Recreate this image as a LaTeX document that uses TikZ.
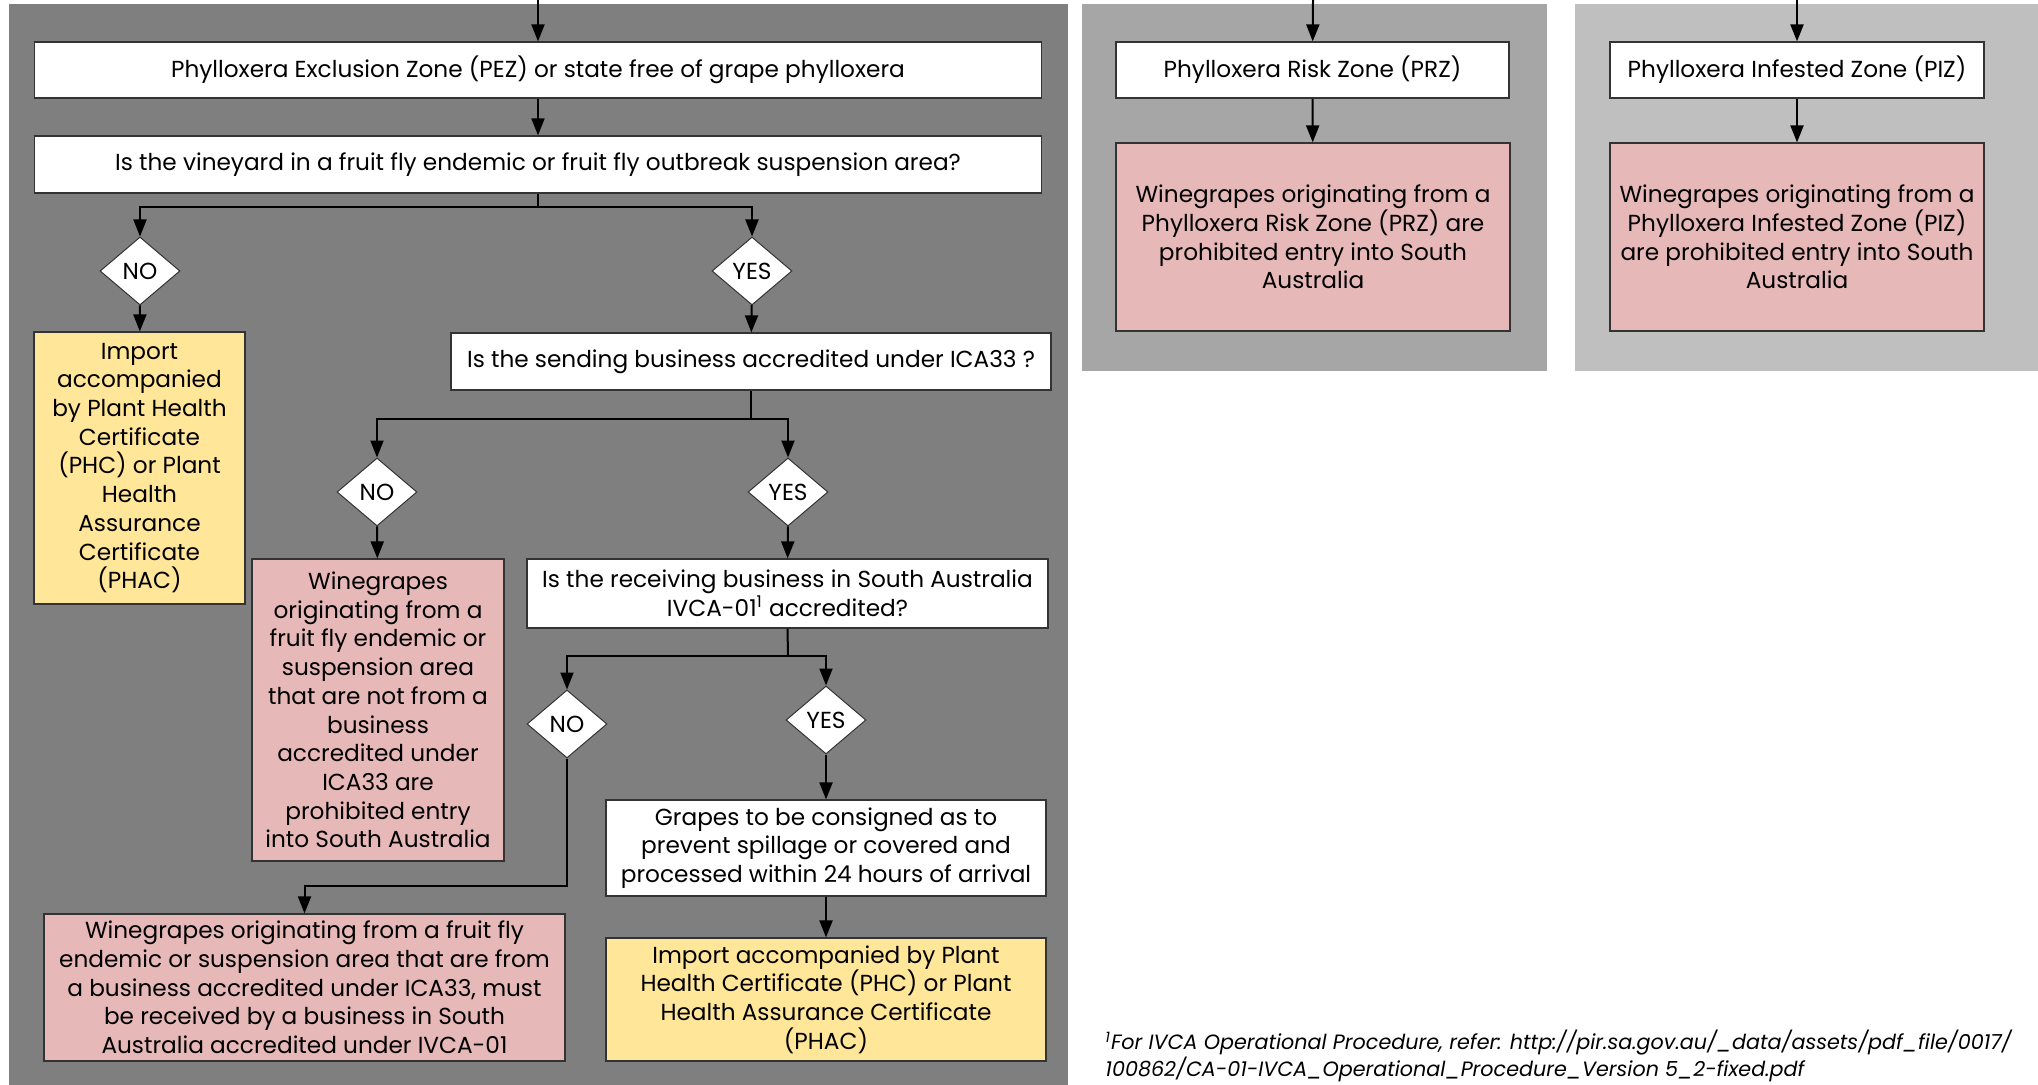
\documentclass[tikz,border=0pt]{standalone}
\usepackage{fontspec}
\setmainfont{Poppins}
\usetikzlibrary{shapes.geometric,arrows.meta}

\definecolor{panelA}{RGB}{127,127,127}
\definecolor{panelB}{RGB}{166,166,166}
\definecolor{panelC}{RGB}{191,191,191}
\definecolor{pinkfill}{RGB}{230,184,183}
\definecolor{goldfill}{RGB}{255,230,153}

\begin{document}
\begin{tikzpicture}[x=0.5pt,y=-0.5pt,
  every node/.style={font=\fontsize{11.6}{14.35}\selectfont, align=center, inner sep=0pt},
  whitebox/.style={draw=black!80, line width=0.6pt, fill=white},
  pinkbox/.style={whitebox, fill=pinkfill},
  goldbox/.style={whitebox, fill=goldfill},
  choice/.style={diamond, draw=black!80, line width=0.5pt, fill=white, minimum width=40pt, minimum height=34pt},
  arr/.style={line width=1pt, -{Triangle[length=8.5pt,width=6.5pt]}}]

\useasboundingbox (0,0) rectangle (2038,1085);

% zone backgrounds
\fill[panelA] (9,4) rectangle (1068,1085);
\fill[panelB] (1082,4) rectangle (1547,371);
\fill[panelC] (1575,4) rectangle (2038,371);

% PEZ column
\coordinate (inpez) at (538,0);
\node[whitebox, minimum width=503.5pt, minimum height=28pt] (pez) at (538,70)
  {Phylloxera Exclusion Zone (PEZ) or state free of grape phylloxera};
\node[whitebox, minimum width=503.5pt, minimum height=28.5pt] (qfly) at (538,164.5)
  {Is the vineyard in a fruit fly endemic or fruit fly outbreak suspension area?};

\node[choice] (nofly) at (140,271) {NO};
\node[choice] (yesfly) at (752,271) {YES};

\node[goldbox, minimum width=105.5pt, minimum height=136pt] (phcA) at (139.5,468)
  {Import\\accompanied\\by Plant Health\\Certificate\\(PHC) or Plant\\Health\\Assurance\\Certificate\\(PHAC)};
\node[whitebox, minimum width=300pt, minimum height=28.5pt] (qsend) at (751,361.5)
  {Is the sending business accredited under ICA33 ?};

\node[choice] (nosend) at (377,492) {NO};
\node[choice] (yessend) at (788,492) {YES};

\node[pinkbox, minimum width=126pt, minimum height=151pt] (banA) at (378,710)
  {Winegrapes\\originating from a\\fruit fly endemic or\\suspension area\\that are not from a\\business\\accredited under\\ICA33 are\\prohibited entry\\into South Australia};
\node[whitebox, minimum width=260.5pt, minimum height=34.5pt] (qrecv) at (787.5,593.5)
  {Is the receiving business in South Australia\\IVCA-01\textsuperscript{1} accredited?};

\node[choice] (norecv) at (567,724) {NO};
\node[choice] (yesrecv) at (826,720) {YES};

\node[whitebox, minimum width=220pt, minimum height=48pt] (consign) at (826,848)
  {Grapes to be consigned as to\\prevent spillage or covered and\\processed within 24 hours of arrival};
\node[goldbox, minimum width=220pt, minimum height=61.5pt] (phcB) at (826,999.5)
  {Import accompanied by Plant\\Health Certificate (PHC) or Plant\\Health Assurance Certificate\\(PHAC)};
\node[pinkbox, minimum width=260.5pt, minimum height=73.5pt] (recvB) at (304.5,987.5)
  {Winegrapes originating from a fruit fly\\endemic or suspension area that are from\\a business accredited under ICA33, must\\be received by a business in South\\Australia accredited under IVCA-01};

\coordinate (jfly) at (538,207);
\coordinate (jsend) at (751,419);
\coordinate (jrecv) at (788,656);
\coordinate (krecv) at (567,886);

\draw[arr] (inpez) -- (pez);
\draw[arr] (pez) -- (qfly);
\draw[line width=1pt] (qfly.south) -- (jfly);
\draw[arr] (jfly) -| (nofly.north);
\draw[arr] (jfly) -| (yesfly.north);
\draw[arr] (nofly) -- (phcA);
\draw[arr] (yesfly) -- (qsend);
\draw[line width=1pt] (qsend.south) -- (jsend);
\draw[arr] (jsend) -| (nosend.north);
\draw[arr] (jsend) -| (yessend.north);
\draw[arr] (nosend) -- (banA);
\draw[arr] (yessend) -- (qrecv);
\draw[line width=1pt] (qrecv.south) -- (jrecv);
\draw[arr] (jrecv) -| (norecv.north);
\draw[arr] (jrecv) -| (yesrecv.north);
\draw[arr] (norecv.south) -- (krecv) -| (recvB.north);
\draw[arr] (yesrecv) -- (consign);
\draw[arr] (consign) -- (phcB);

% PRZ column
\coordinate (inprz) at (1313,0);
\node[whitebox, minimum width=196.5pt, minimum height=28pt] (prz) at (1312.5,70)
  {Phylloxera Risk Zone (PRZ)};
\node[pinkbox, minimum width=197pt, minimum height=94pt] (banprz) at (1313,237)
  {Winegrapes originating from a\\Phylloxera Risk Zone (PRZ) are\\prohibited entry into South\\Australia};
\draw[arr] (inprz) -- (prz);
\draw[arr] (prz) -- (banprz);

% PIZ column
\coordinate (inpiz) at (1797,0);
\node[whitebox, minimum width=187pt, minimum height=28pt] (piz) at (1797,70)
  {Phylloxera Infested Zone (PIZ)};
\node[pinkbox, minimum width=187pt, minimum height=94pt] (banpiz) at (1797,237)
  {Winegrapes originating from a\\Phylloxera Infested Zone (PIZ)\\are prohibited entry into South\\Australia};
\draw[arr] (inpiz) -- (piz);
\draw[arr] (piz) -- (banpiz);

% footnote
\node[anchor=west, align=left, font=\fontsize{10.35}{13.5}\selectfont\itshape] (note) at (1105,1056)
  {\textsuperscript{1}For IVCA Operational Procedure, refer: http://pir.sa.gov.au/\_data/assets/pdf\_file/0017/\\100862/CA-01-IVCA\_Operational\_Procedure\_Version 5\_2-fixed.pdf};

\end{tikzpicture}
\end{document}
